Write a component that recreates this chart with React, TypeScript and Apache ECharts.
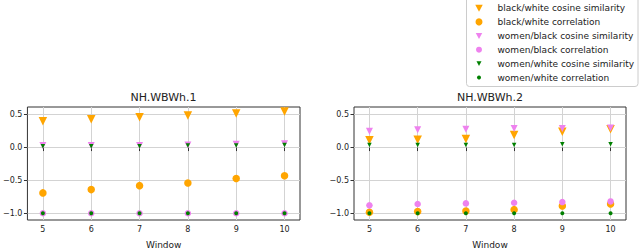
import React, { useEffect, useRef } from "react";
import * as echarts from "echarts";

const windows = [5, 6, 7, 8, 9, 10];
const yTicks = [-1, -0.5, 0, 0.5];
const xTicks = [5, 6, 7, 8, 9, 10];
const panelTitles = ["NH.WBWh.1", "NH.WBWh.2"];
const xAxisName = "Window";
const seriesNames = [
  "black/white cosine similarity",
  "black/white correlation",
  "women/black cosine similarity",
  "women/black correlation",
  "women/white cosine similarity",
  "women/white correlation",
];

// Panel 1: NH.WBWh.1
const p1BwCos = [0.4, 0.43, 0.46, 0.49, 0.52, 0.55];
const p1BwCorr = [-0.69, -0.64, -0.58, -0.54, -0.47, -0.43];
const p1WbCos = [0.03, 0.03, 0.03, 0.04, 0.05, 0.06];
const p1WbCorr = [-1, -1, -1, -1, -1, -1];
const p1WwCos = [0.02, 0.02, 0.02, 0.03, 0.03, 0.04];
const p1WwCorr = [-1, -1, -1, -1, -1, -1];

// Panel 2: NH.WBWh.2
const p2BwCos = [0.11, 0.12, 0.13, 0.19, 0.24, 0.28];
const p2BwCorr = [-0.985, -0.975, -0.965, -0.945, -0.89, -0.86];
const p2WbCos = [0.25, 0.27, 0.28, 0.29, 0.29, 0.3];
const p2WbCorr = [-0.88, -0.86, -0.85, -0.84, -0.83, -0.82];
const p2WwCos = [0.04, 0.04, 0.04, 0.04, 0.05, 0.05];
const p2WwCorr = [-1, -1, -1, -1, -1, -1];

const panels = [
  [p1BwCos, p1BwCorr, p1WbCos, p1WbCorr, p1WwCos, p1WwCorr],
  [p2BwCos, p2BwCorr, p2WbCos, p2WbCorr, p2WwCos, p2WwCorr],
];

const colors = ["#FFA500", "#FFA500", "#EE82EE", "#EE82EE", "#008000", "#008000"];
const isTriangle = [true, false, true, false, true, false];
const symbolSizes = [8.5, 7.5, 7, 6.5, 4.5, 4];
const legendSizes = [7.5, 7, 6.5, 6, 5, 4];

const FONT = "DejaVu Sans";

export default function App() {
  const ref = useRef<HTMLDivElement>(null);
  useEffect(() => {
    if (!ref.current) return;
    const chart = echarts.init(ref.current, undefined, { renderer: "svg" });
    const grids = [
      { left: 27, top: 107, width: 273, height: 117 },
      { left: 354, top: 107, width: 272, height: 117 },
    ];
    const xAxes = grids.map((_, i) => ({
      type: "value",
      gridIndex: i,
      min: 4.68,
      max: 10.32,
      name: xAxisName,
      nameLocation: "middle",
      nameGap: 20,
      nameTextStyle: { fontFamily: FONT, fontSize: 9, color: "#222" },
      axisLine: { show: false },
      axisTick: {
        show: true,
        length: 3.5,
        inside: false,
        customValues: xTicks,
        lineStyle: { color: "#333", width: 1 },
      },
      axisLabel: {
        customValues: xTicks,
        margin: 5,
        fontFamily: FONT,
        fontSize: 8,
        color: "#222",
        formatter: (v: number) => String(v),
      },
      splitLine: { show: true, lineStyle: { color: "#d3d3d3", width: 1 } },
    }));
    const yAxes = grids.map((_, i) => ({
      type: "value",
      gridIndex: i,
      min: -1.103,
      max: 0.618,
      axisLine: { show: false },
      axisTick: {
        show: true,
        length: 3.5,
        inside: false,
        customValues: yTicks,
        lineStyle: { color: "#333", width: 1 },
      },
      axisLabel: {
        customValues: yTicks,
        margin: 5,
        fontFamily: FONT,
        fontSize: 8,
        color: "#222",
        formatter: (v: number) => (v < 0 ? "\u2212" + Math.abs(v).toFixed(1) : v.toFixed(1)),
      },
      splitLine: { show: true, lineStyle: { color: "#d3d3d3", width: 1 } },
    }));
    const series: any[] = [];
    panels.forEach((panel, pi) => {
      panel.forEach((vals, si) => {
        series.push({
          type: "scatter",
          name: seriesNames[si],
          xAxisIndex: pi,
          yAxisIndex: pi,
          data: windows.map((w, k) => [w, vals[k]]),
          ...(isTriangle[si]
            ? { symbol: "triangle", symbolRotate: 180 }
            : { symbol: "circle" }),
          symbolSize: symbolSizes[si],
          itemStyle: { color: colors[si], opacity: 1 },
          z: 2 + si,
          silent: true,
        });
      });
    });

    const legendX = 479;
    const textX = 497.5;
    const rowY = (i: number) => 8 + i * 13.9;
    const legendEls: any[] = [
      {
        type: "rect",
        shape: { x: 466.5, y: -4, width: 171.5, height: 90.5, r: 3 },
        style: { fill: "#fff", stroke: "#cccccc", lineWidth: 1 },
        z: 100,
      },
    ];
    seriesNames.forEach((name, i) => {
      const y = rowY(i);
      const s = legendSizes[i];
      if (isTriangle[i]) {
        legendEls.push({
          type: "polygon",
          shape: {
            points: [
              [legendX - s / 2, y - s * 0.45],
              [legendX + s / 2, y - s * 0.45],
              [legendX, y + s * 0.5],
            ],
          },
          style: { fill: colors[i] },
          z: 101,
        });
      } else {
        legendEls.push({
          type: "circle",
          shape: { cx: legendX, cy: y, r: s / 2 },
          style: { fill: colors[i] },
          z: 101,
        });
      }
      legendEls.push({
        type: "text",
        x: textX,
        y,
        style: {
          text: name,
          fontFamily: FONT,
          fontSize: 9,
          fill: "#222",
          align: "left",
          verticalAlign: "middle",
        },
        z: 101,
      });
    });
    const titleEls = grids.map((g, i) => ({
      type: "text",
      x: g.left + g.width / 2,
      y: 97,
      style: {
        text: panelTitles[i],
        fontFamily: FONT,
        fontSize: 11,
        fill: "#222",
        align: "center",
        verticalAlign: "middle",
      },
    }));

    chart.setOption({
      animation: false,
      backgroundColor: "#fff",
      grid: grids.map((g) => ({
        ...g,
        show: true,
        borderColor: "#333",
        borderWidth: 1,
        backgroundColor: "transparent",
      })),
      xAxis: xAxes,
      yAxis: yAxes,
      series,
      graphic: [...titleEls, ...legendEls],
    });
    return () => chart.dispose();
  }, []);
  return <div ref={ref} style={{ width: 640, height: 250, position: "fixed", left: 0, top: 0 }} />;
}
